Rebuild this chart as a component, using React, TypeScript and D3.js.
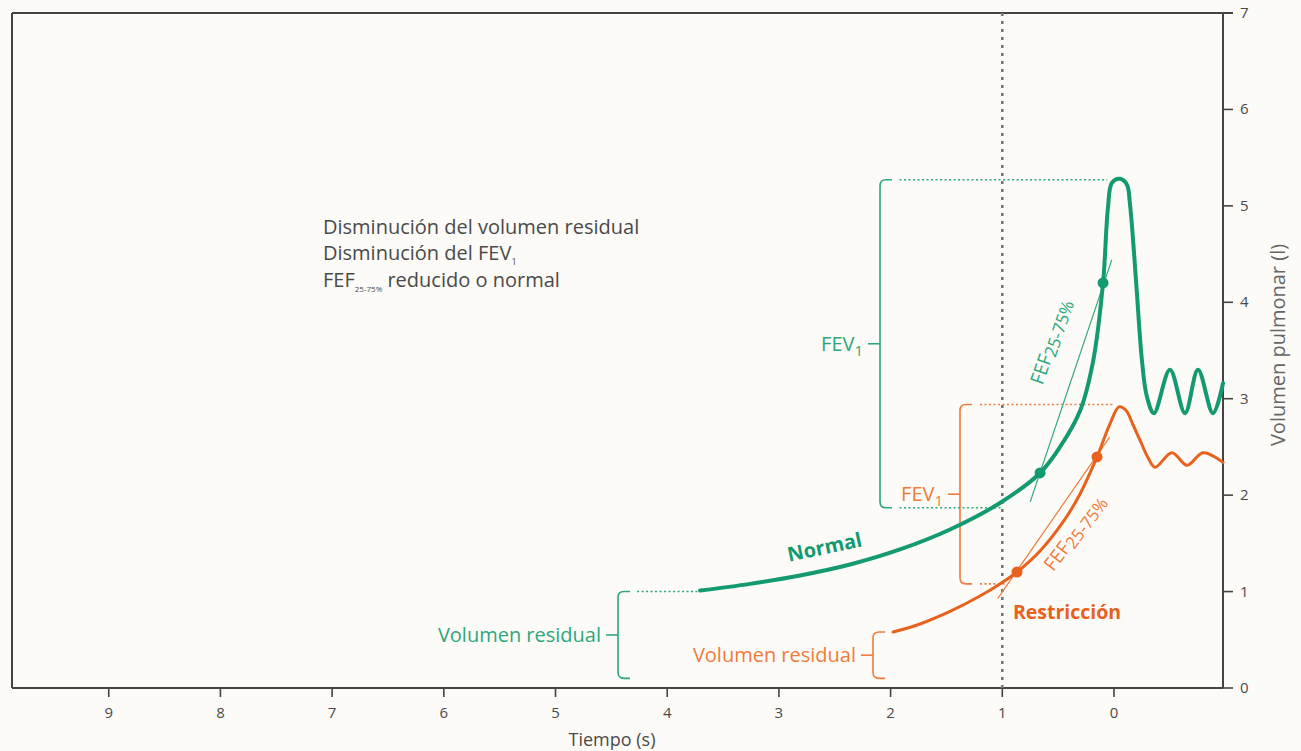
import React from "react";
import * as d3 from "d3";

// ---- data ----
const xTicks = [9, 8, 7, 6, 5, 4, 3, 2, 1, 0];
const yTicks = [0, 1, 2, 3, 4, 5, 6, 7];

// Normal curve: [time (s), volume (l)]
const normalCurve: [number, number][] = [
  [3.706, 1.01], [3.259, 1.08], [2.811, 1.167], [2.363, 1.281], [1.916, 1.437],
  [1.468, 1.644], [1.021, 1.919], [0.662, 2.23], [0.483, 2.5], [0.304, 2.873],
  [0.188, 3.382], [0.098, 4.201], [0.054, 4.98], [0.018, 5.24], [-0.054, 5.28],
  [-0.116, 5.22], [-0.143, 5.02], [-0.197, 4.23], [-0.25, 3.4], [-0.295, 3.02],
  [-0.358, 2.85], [-0.501, 3.3], [-0.636, 2.85], [-0.752, 3.3], [-0.886, 2.85],
  [-0.976, 3.16],
];
// Restriction curve
const restrCurve: [number, number][] = [
  [1.978, 0.58], [1.737, 0.664], [1.468, 0.794], [1.2, 0.954], [1.021, 1.079],
  [0.868, 1.203], [0.662, 1.421], [0.456, 1.722], [0.304, 2.012], [0.152, 2.396],
  [0.036, 2.739], [-0.045, 2.915], [-0.107, 2.88], [-0.17, 2.73], [-0.233, 2.57],
  [-0.304, 2.39], [-0.367, 2.29], [-0.519, 2.44], [-0.654, 2.31], [-0.797, 2.44],
  [-0.976, 2.34],
];
const normalDots: [number, number][] = [[0.662, 2.23], [0.098, 4.201]];
const restrDots: [number, number][] = [[0.868, 1.203], [0.152, 2.396]];
const normalFefLine: [number, number][] = [[0.75, 1.93], [0.02, 4.44]];
const restrFefLine: [number, number][] = [[1.04, 0.93], [0.04, 2.6]];

const GREEN = "#149a71";
const GREEN_L = "#2ea77c";
const ORANGE = "#e8611e";
const ORANGE_L = "#ef7b3c";
const AXIS = "#444";
const TXT = "#4a4a4a";
const FONT = "'Open Sans', sans-serif";

const W = 1301, H = 751;
const x = d3.scaleLinear().domain([9.866, -0.976]).range([12, 1223]);
const y = d3.scaleLinear().domain([0, 7]).range([688, 13]);

const line = d3
  .line<[number, number]>()
  .x((d) => x(d[0]))
  .y((d) => y(d[1]))
  .curve(d3.curveCatmullRom.alpha(0.5));

function bracket(bx: number, y0: number, y1: number, hook: number, r = 6) {
  return `M${bx + hook},${y0} L${bx + r},${y0} Q${bx},${y0} ${bx},${y0 + r} L${bx},${y1 - r} Q${bx},${y1} ${bx + r},${y1} L${bx + hook},${y1}`;
}

function Bracket({ bx, v0, v1, color, tc, label, sub }: any) {
  const y0 = y(v1), y1 = y(v0);
  const mid = (y0 + y1) / 2;
  return (
    <g>
      <path d={bracket(bx, y0, y1, 12)} fill="none" stroke={color} strokeWidth={1.6} />
      <line x1={bx - 12} x2={bx} y1={mid} y2={mid} stroke={color} strokeWidth={1.6} />
      <text x={bx - 17} y={mid + 7} textAnchor="end" fill={tc} fontSize={20} fontFamily={FONT}>
        {label}
        {sub && (
          <tspan fontSize={15} dy={5}>
            {sub}
          </tspan>
        )}
      </text>
    </g>
  );
}

function Dotted({ t0, t1, v, color }: any) {
  return (
    <line x1={x(t0)} x2={x(t1)} y1={y(v)} y2={y(v)} stroke={color} strokeWidth={1.6} strokeDasharray="2,2.5" />
  );
}

export default function App() {
  return (
    <svg width={W} height={H} style={{ position: "absolute", left: 0, top: 0, background: "#fcfbf7" }}>
      <rect width={W} height={H} fill="#fcfbf7" />
      {/* frame */}
      <line x1={12} x2={12} y1={13} y2={688} stroke={AXIS} strokeWidth={2} />
      <line x1={12} x2={1233} y1={13} y2={13} stroke={AXIS} strokeWidth={2} />
      <line x1={12} x2={1223} y1={688} y2={688} stroke={AXIS} strokeWidth={2.2} />
      <line x1={1223} x2={1223} y1={13} y2={688} stroke={AXIS} strokeWidth={2} />
      {/* x ticks */}
      {xTicks.map((t) => (
        <g key={"xt" + t}>
          <line x1={x(t)} x2={x(t)} y1={688} y2={697} stroke={AXIS} strokeWidth={1.6} />
          <text x={x(t)} y={718} textAnchor="middle" fontSize={15} fill={TXT} fontFamily={FONT}>
            {t}
          </text>
        </g>
      ))}
      {/* y ticks */}
      {yTicks.map((v) => (
        <g key={"yt" + v}>
          <line x1={1223} x2={1233} y1={y(v)} y2={y(v)} stroke={AXIS} strokeWidth={1.6} />
          <text x={1240} y={y(v) + 5} fontSize={15} fill={TXT} fontFamily={FONT}>
            {v}
          </text>
        </g>
      ))}
      <text x={612} y={746} textAnchor="middle" fontSize={18} fill={TXT} fontFamily={FONT}>
        Tiempo (s)
      </text>
      <text
        transform={`translate(1285,${345}) rotate(-90)`}
        textAnchor="middle"
        fontSize={20}
        fill="#666"
        fontFamily={FONT}
      >
        Volumen pulmonar (l)
      </text>

      {/* vertical dotted line at 1 s */}
      <line x1={x(1)} x2={x(1)} y1={13} y2={688} stroke="#777" strokeWidth={2.6} strokeDasharray="3,5" />

      {/* annotation */}
      <g fontFamily={FONT} fontSize={20} fill={TXT}>
        <text x={323} y={234}>Disminución del volumen residual</text>
        <text x={323} y={260}>
          Disminución del FEV<tspan fontSize={9} dy={5}>1</tspan>
        </text>
        <text x={323} y={287}>
          FEF<tspan fontSize={8} dy={5}>25-75%</tspan>
          <tspan dy={-5}> reducido o normal</tspan>
        </text>
      </g>

      {/* brackets */}
      <Bracket bx={880} v0={1.87} v1={5.27} color={GREEN_L} tc={GREEN_L} label="FEV" sub="1" />
      <Bracket bx={960} v0={1.08} v1={2.94} color={ORANGE_L} tc={ORANGE_L} label="FEV" sub="1" />
      <Bracket bx={618} v0={0.1} v1={1.0} color={GREEN_L} tc={GREEN_L} label="Volumen residual" />
      <Bracket bx={873} v0={0.1} v1={0.58} color={ORANGE_L} tc={ORANGE_L} label="Volumen residual" />

      <Dotted t0={4.27} t1={3.73} v={1.0} color={GREEN_L} />
      <Dotted t0={1.92} t1={0.06} v={5.27} color={GREEN_L} />
      <Dotted t0={1.92} t1={1.0} v={1.87} color={GREEN_L} />
      <Dotted t0={1.2} t1={0.0} v={2.94} color={ORANGE_L} />
      <Dotted t0={1.2} t1={0.98} v={1.08} color={ORANGE_L} />

      {/* FEF lines */}
      <path d={d3.line()(normalFefLine.map((d) => [x(d[0]), y(d[1])]) as any) || ""} stroke={GREEN_L} strokeWidth={1.2} fill="none" />
      <path d={d3.line()(restrFefLine.map((d) => [x(d[0]), y(d[1])]) as any) || ""} stroke={ORANGE_L} strokeWidth={1.2} fill="none" />

      {/* curves */}
      <path d={line(normalCurve) || ""} fill="none" stroke={GREEN} strokeWidth={4} strokeLinecap="round" />
      <path d={line(restrCurve) || ""} fill="none" stroke={ORANGE} strokeWidth={3} strokeLinecap="round" />

      {normalDots.map((d, i) => (
        <circle key={"nd" + i} cx={x(d[0])} cy={y(d[1])} r={5.5} fill={GREEN} />
      ))}
      {restrDots.map((d, i) => (
        <circle key={"rd" + i} cx={x(d[0])} cy={y(d[1])} r={5.5} fill={ORANGE} />
      ))}

      {/* FEF labels */}
      <text transform="translate(1057,344) rotate(-71)" textAnchor="middle" fill={GREEN_L} fontSize={19} fontFamily={FONT}>
        FEF<tspan fontSize={17} dy={3}>25-75%</tspan>
      </text>
      <text transform="translate(1080,537) rotate(-53)" textAnchor="middle" fill={ORANGE_L} fontSize={19} fontFamily={FONT}>
        FEF<tspan fontSize={17} dy={3}>25-75%</tspan>
      </text>

      {/* curve labels */}
      <text transform="translate(826,554) rotate(-12)" textAnchor="middle" fill={GREEN} fontSize={20} fontWeight="bold" fontFamily={FONT}>
        Normal
      </text>
      <text x={1067} y={619} textAnchor="middle" fill={ORANGE} fontSize={19.5} fontWeight="bold" fontFamily={FONT}>
        Restricción
      </text>
    </svg>
  );
}
